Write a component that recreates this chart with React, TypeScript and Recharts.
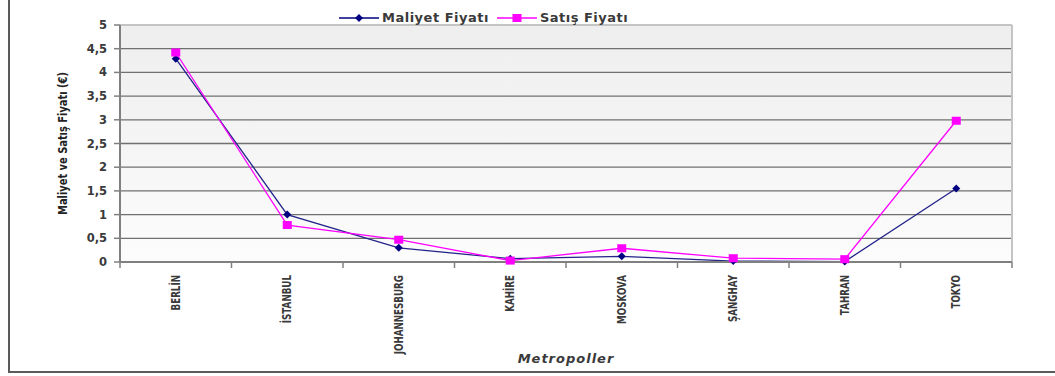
import React from 'react';
import { LineChart, Line, XAxis, YAxis, CartesianGrid } from 'recharts';

const cities = ['BERLİN', 'İSTANBUL', 'JOHANNESBURG', 'KAHİRE', 'MOSKOVA', 'ŞANGHAY', 'TAHRAN', 'TOKYO'];
const maliyet = [4.29, 1.0, 0.3, 0.07, 0.12, 0.02, 0.01, 1.55];
const satis = [4.42, 0.78, 0.47, 0.03, 0.29, 0.08, 0.06, 2.98];
const yTicks = [0, 0.5, 1, 1.5, 2, 2.5, 3, 3.5, 4, 4.5, 5];

const data = cities.map((city, i) => ({ city, maliyet: maliyet[i], satis: satis[i] }));

const W = 1055;
const H = 376;
const PLOT_TOP = 25;
const PLOT_LEFT = 120;
const PLOT_RIGHT = 1012;
const BAND_HALF = (PLOT_RIGHT - PLOT_LEFT) / cities.length / 2;

const AXIS = '#808080';
const FRAME = '#c4c4c4';
const TEXT = '#3a3a3a';
const NAVY = '#000080';
const PINK = '#ff00ff';

const labelFont = 'DejaVu Sans, Verdana, sans-serif';
// narrow labels: DejaVu Sans squeezed horizontally along the text direction
const NARROW = 0.7;

const CityTick = (props: any) => {
  const { x, y, payload, index } = props;
  const last = index === cities.length - 1;
  return (
    <g>
      <line x1={x - BAND_HALF} x2={x - BAND_HALF} y1={y} y2={y + 6} stroke={AXIS} strokeWidth={1.5} />
      {last && <line x1={x + BAND_HALF} x2={x + BAND_HALF} y1={y} y2={y + 6} stroke={AXIS} strokeWidth={1.5} />}
      <text
        transform={`translate(${x}, ${y + 13}) rotate(-90) scale(${NARROW}, 1)`}
        textAnchor="end"
        dominantBaseline="central"
        fontFamily={labelFont}
        fontWeight="bold"
        fontSize={12.5}
        fill={TEXT}
      >
        {payload.value}
      </text>
    </g>
  );
};

const Diamond = (props: any) => {
  const { cx, cy } = props;
  if (cx == null || cy == null) return null;
  return <path d={`M${cx},${cy - 4}L${cx + 4},${cy}L${cx},${cy + 4}L${cx - 4},${cy}Z`} fill={NAVY} />;
};

const Square = (props: any) => {
  const { cx, cy } = props;
  if (cx == null || cy == null) return null;
  return <rect x={cx - 4.5} y={cy - 4} width={9} height={8} fill={PINK} />;
};

const YTitle = (props: any) => {
  const { viewBox } = props;
  const cx = 62;
  const cy = viewBox.y + viewBox.height / 2;
  return (
    <text
      transform={`translate(${cx}, ${cy}) rotate(-90) scale(0.76, 1)`}
      textAnchor="middle"
      dominantBaseline="central"
      fontFamily={labelFont}
      fontWeight="bold"
      fontSize={13}
      fill="#222"
    >
      Maliyet ve Satış Fiyatı (€)
    </text>
  );
};

function LegendItem({ color, label, square }: { color: string; label: string; square?: boolean }) {
  return (
    <span style={{ display: 'inline-flex', alignItems: 'center', marginRight: 8 }}>
      <svg width={40} height={10} style={{ marginRight: 3 }}>
        <line x1={0} x2={40} y1={5} y2={5} stroke={color} strokeWidth={1.5} />
        {square ? (
          <rect x={15.5} y={1} width={9} height={8} fill={color} />
        ) : (
          <path d="M20,1L24,5L20,9L16,5Z" fill={color} />
        )}
      </svg>
      <span>{label}</span>
    </span>
  );
}

export default function App() {
  return (
    <div style={{ position: 'fixed', left: 0, top: 0, width: W, height: H, background: '#fff', overflow: 'hidden' }}>
      <LineChart width={W} height={H} data={data} margin={{ top: PLOT_TOP, right: W - PLOT_RIGHT, left: 0, bottom: 0 }}>
        <defs>
          <linearGradient id="plotBg" x1="0" y1="0" x2="0" y2="1">
            <stop offset="0%" stopColor="#eeeeee" />
            <stop offset="100%" stopColor="#fcfcfc" />
          </linearGradient>
        </defs>
        <CartesianGrid vertical={false} stroke="#707070" strokeWidth={1.3} fill="url(#plotBg)" />
        {/* light frame on the top and right edges of the plot */}
        <CartesianGrid vertical={false} horizontalPoints={[PLOT_TOP]} stroke={FRAME} strokeWidth={2} />
        <CartesianGrid horizontal={false} verticalPoints={[PLOT_RIGHT]} stroke={FRAME} strokeWidth={2} />
        <XAxis
          dataKey="city"
          height={H - 262}
          interval={0}
          padding={{ left: BAND_HALF, right: BAND_HALF }}
          tickLine={false}
          tickSize={0}
          tickMargin={0}
          axisLine={{ stroke: AXIS, strokeWidth: 2 }}
          tick={<CityTick />}
        />
        <YAxis
          width={PLOT_LEFT}
          domain={[0, 5]}
          ticks={yTicks}
          interval={0}
          tickSize={6}
          tickMargin={7}
          axisLine={{ stroke: AXIS, strokeWidth: 2 }}
          tickLine={{ stroke: AXIS, strokeWidth: 1.5 }}
          tickFormatter={(v: number) => String(v).replace('.', ',')}
          tick={{ fontFamily: labelFont, fontWeight: 'bold', fontSize: 11.5, fill: TEXT }}
          label={<YTitle />}
        />
        <Line
          dataKey="maliyet"
          name="Maliyet Fiyatı"
          type="linear"
          stroke="#23238a"
          strokeWidth={1.3}
          dot={<Diamond />}
          activeDot={false}
          isAnimationActive={false}
        />
        <Line
          dataKey="satis"
          name="Satış Fiyatı"
          type="linear"
          stroke={PINK}
          strokeWidth={1.3}
          dot={<Square />}
          activeDot={false}
          isAnimationActive={false}
        />
      </LineChart>

      <div
        style={{
          position: 'absolute',
          left: 339,
          top: 10,
          display: 'flex',
          fontFamily: labelFont,
          fontWeight: 'bold',
          fontSize: 13,
          letterSpacing: 0.5,
          color: TEXT,
          lineHeight: '15px',
        }}
      >
        <LegendItem color={NAVY} label="Maliyet Fiyatı" />
        <LegendItem color={PINK} label="Satış Fiyatı" square />
      </div>

      <div
        style={{
          position: 'absolute',
          left: PLOT_LEFT,
          width: PLOT_RIGHT - PLOT_LEFT,
          top: 351,
          textAlign: 'center',
          fontFamily: labelFont,
          fontWeight: 'bold',
          fontStyle: 'italic',
          fontSize: 13,
          letterSpacing: 1,
          color: TEXT,
        }}
      >
        Metropoller
      </div>

      <div style={{ position: 'absolute', left: 8, top: 0, width: 2, height: 373, background: '#5a5a5a' }} />
      <div style={{ position: 'absolute', left: 8, top: 371, width: W - 8, height: 2, background: '#5a5a5a' }} />
    </div>
  );
}
